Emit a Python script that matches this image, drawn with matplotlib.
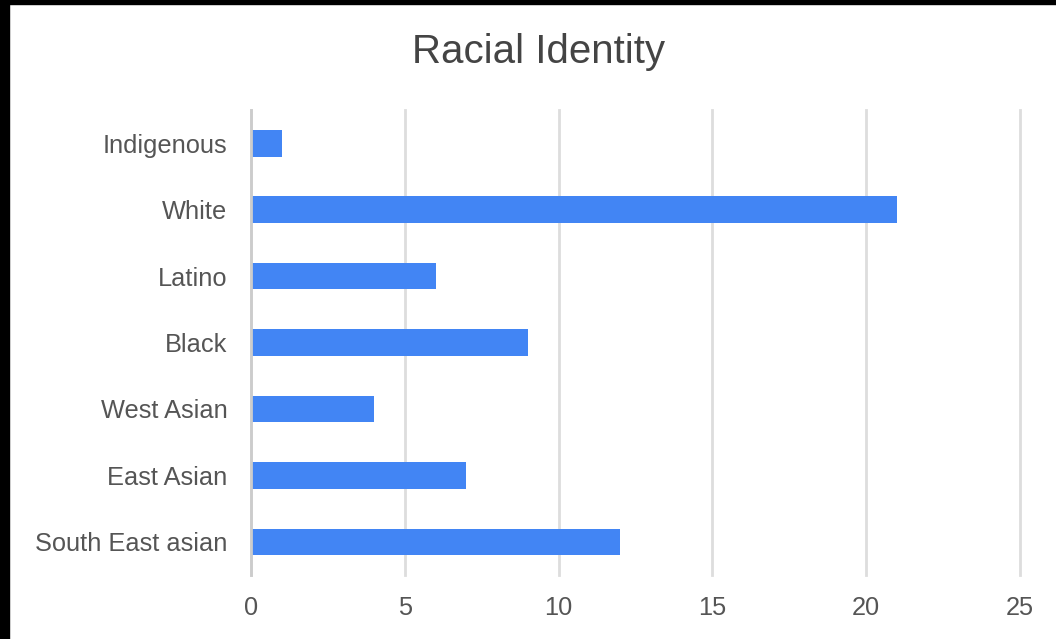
import matplotlib
matplotlib.use("Agg")
import matplotlib.pyplot as plt
from matplotlib.patches import Rectangle

categories = ["Indigenous", "White", "Latino", "Black", "West Asian", "East Asian", "South East asian"]
values = [1, 21, 6, 9, 4, 7, 12]
x_ticks = [0, 5, 10, 15, 20, 25]
title = "Racial Identity"

plt.rcParams['font.family'] = ['Liberation Sans', 'DejaVu Sans']

W, H = 1056, 639
fig = plt.figure(figsize=(W / 100, H / 100), dpi=100)
fig.patch.set_facecolor("white")

ax = fig.add_axes([251 / W, 1 - 575 / H, (1020 - 251) / W, (575 - 110) / H])
pos = list(range(len(categories)))
ax.barh(pos, values, height=0.4, color="#4285F4", zorder=3)
ax.set_ylim(len(categories) - 0.5, -0.5)
ax.set_xlim(0, 25)
ax.set_xticks(x_ticks)
ax.set_xticklabels([str(t) for t in x_ticks])
ax.set_yticks(pos)
ax.set_yticklabels(categories)
ax.grid(axis="x", color="#dddddd", linewidth=2, zorder=0)
for gl in ax.get_xgridlines():
    gl.set_clip_on(False)
ax.tick_params(axis="both", length=0, labelsize=18.3, labelcolor="#555555")
ax.tick_params(axis="x", pad=15)
ax.tick_params(axis="y", pad=17)
for s in ["top", "right", "bottom"]:
    ax.spines[s].set_visible(False)
ax.spines["left"].set_color("#cccccc")
ax.spines["left"].set_linewidth(2)
ax.spines["left"].set_zorder(4)

fig.text(538 / W, 1 - 52 / H, title, ha="center", va="center", fontsize=29, color="#444444")

# black frame edges of the screenshot
fig.patches.append(Rectangle((0, 0), 9 / W, 1, transform=fig.transFigure, color="black", zorder=10))
fig.patches.append(Rectangle((0, 1 - 4 / H), 1, 4 / H, transform=fig.transFigure, color="black", zorder=10))

fig.savefig("out.png", dpi=100)
